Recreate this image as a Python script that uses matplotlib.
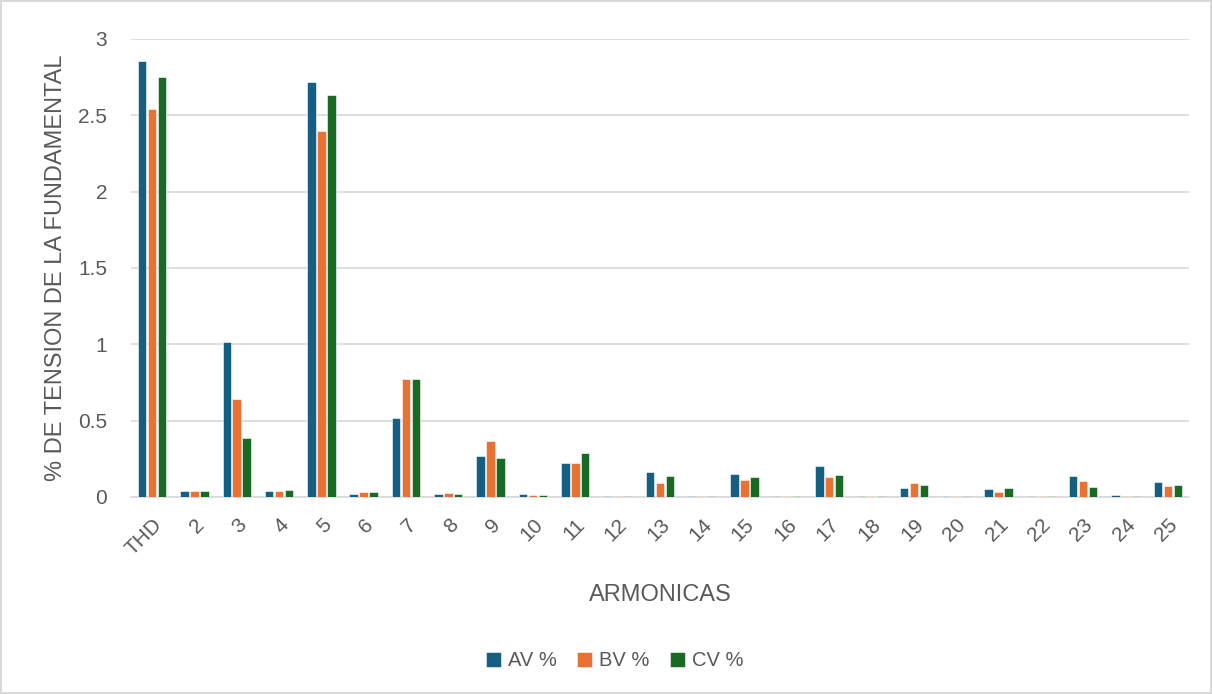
import numpy as np
import matplotlib
matplotlib.use("Agg")
import matplotlib.pyplot as plt

# === DATA ===
categories = ["THD"] + [str(n) for n in range(2, 26)]
av = [2.853, 0.037, 1.015, 0.037, 2.72, 0.02, 0.517, 0.018, 0.268, 0.018, 0.22, 0.008,
      0.166, 0.008, 0.15, 0.005, 0.205, 0.005, 0.057, 0.005, 0.054, 0.005, 0.138, 0.011, 0.096]
bv = [2.539, 0.037, 0.64, 0.037, 2.395, 0.03, 0.77, 0.024, 0.364, 0.013, 0.22, 0.008,
      0.09, 0.008, 0.113, 0.005, 0.131, 0.005, 0.092, 0.005, 0.035, 0.005, 0.103, 0.005, 0.072]
cv = [2.75, 0.037, 0.388, 0.046, 2.63, 0.03, 0.77, 0.018, 0.253, 0.013, 0.286, 0.008,
      0.135, 0.008, 0.129, 0.005, 0.146, 0.005, 0.081, 0.005, 0.059, 0.005, 0.066, 0.005, 0.077]
series_names = ["AV %", "BV %", "CV %"]
yticks = [0, 0.5, 1, 1.5, 2, 2.5, 3]

# === STYLE ===
plt.rcParams["font.family"] = ["Liberation Sans", "DejaVu Sans"]
COLORS = ["#156082", "#E97132", "#196B24"]
TEXT_COLOR = "#595959"
GRID_COLOR = "#D9D9D9"
BAR_W = 0.2

fig = plt.figure(figsize=(12.12, 6.94), dpi=100)
fig.patch.set_edgecolor(GRID_COLOR)
fig.patch.set_linewidth(1.5)
ax = fig.add_axes([0.108, 0.284, 0.873, 0.66])

x = np.arange(len(categories))
for i, (vals, name, col) in enumerate(zip([av, bv, cv], series_names, COLORS)):
    ax.bar(x + (i - 1) * (BAR_W + 0.035), vals, width=BAR_W, color=col,
           edgecolor="white", linewidth=0.4, label=name, zorder=3)

ax.set_xlim(-0.5, len(categories) - 0.5)
ax.set_ylim(0, 3)
ax.set_yticks(yticks)
ax.set_yticklabels([f"{t:g}" for t in yticks])
ax.yaxis.grid(True, color=GRID_COLOR, lw=1.2, zorder=0)
ax.set_axisbelow(True)
for s in ["top", "right", "left"]:
    ax.spines[s].set_visible(False)
ax.spines["bottom"].set_color(GRID_COLOR)
ax.spines["bottom"].set_linewidth(1.2)
ax.tick_params(axis="both", length=0, colors=TEXT_COLOR, labelsize=15)
ax.tick_params(axis="y", pad=17)
ax.set_xticks(x)
ax.set_xticklabels(categories, rotation=45, ha="right", va="top", rotation_mode="anchor")
ax.tick_params(axis="x", pad=13)

ax.set_ylabel("% DE TENSION DE LA FUNDAMENTAL", fontsize=17, color=TEXT_COLOR, labelpad=8)
ax.set_xlabel("ARMONICAS", fontsize=17, color=TEXT_COLOR, labelpad=18)

leg = fig.legend(loc="center", bbox_to_anchor=(0.507, 0.048), ncol=3, frameon=False,
                 fontsize=14.5, handlelength=0.75, handleheight=0.75, handletextpad=0.35,
                 columnspacing=1.0)
for t in leg.get_texts():
    t.set_color(TEXT_COLOR)

fig.savefig("out.png", dpi=100)
